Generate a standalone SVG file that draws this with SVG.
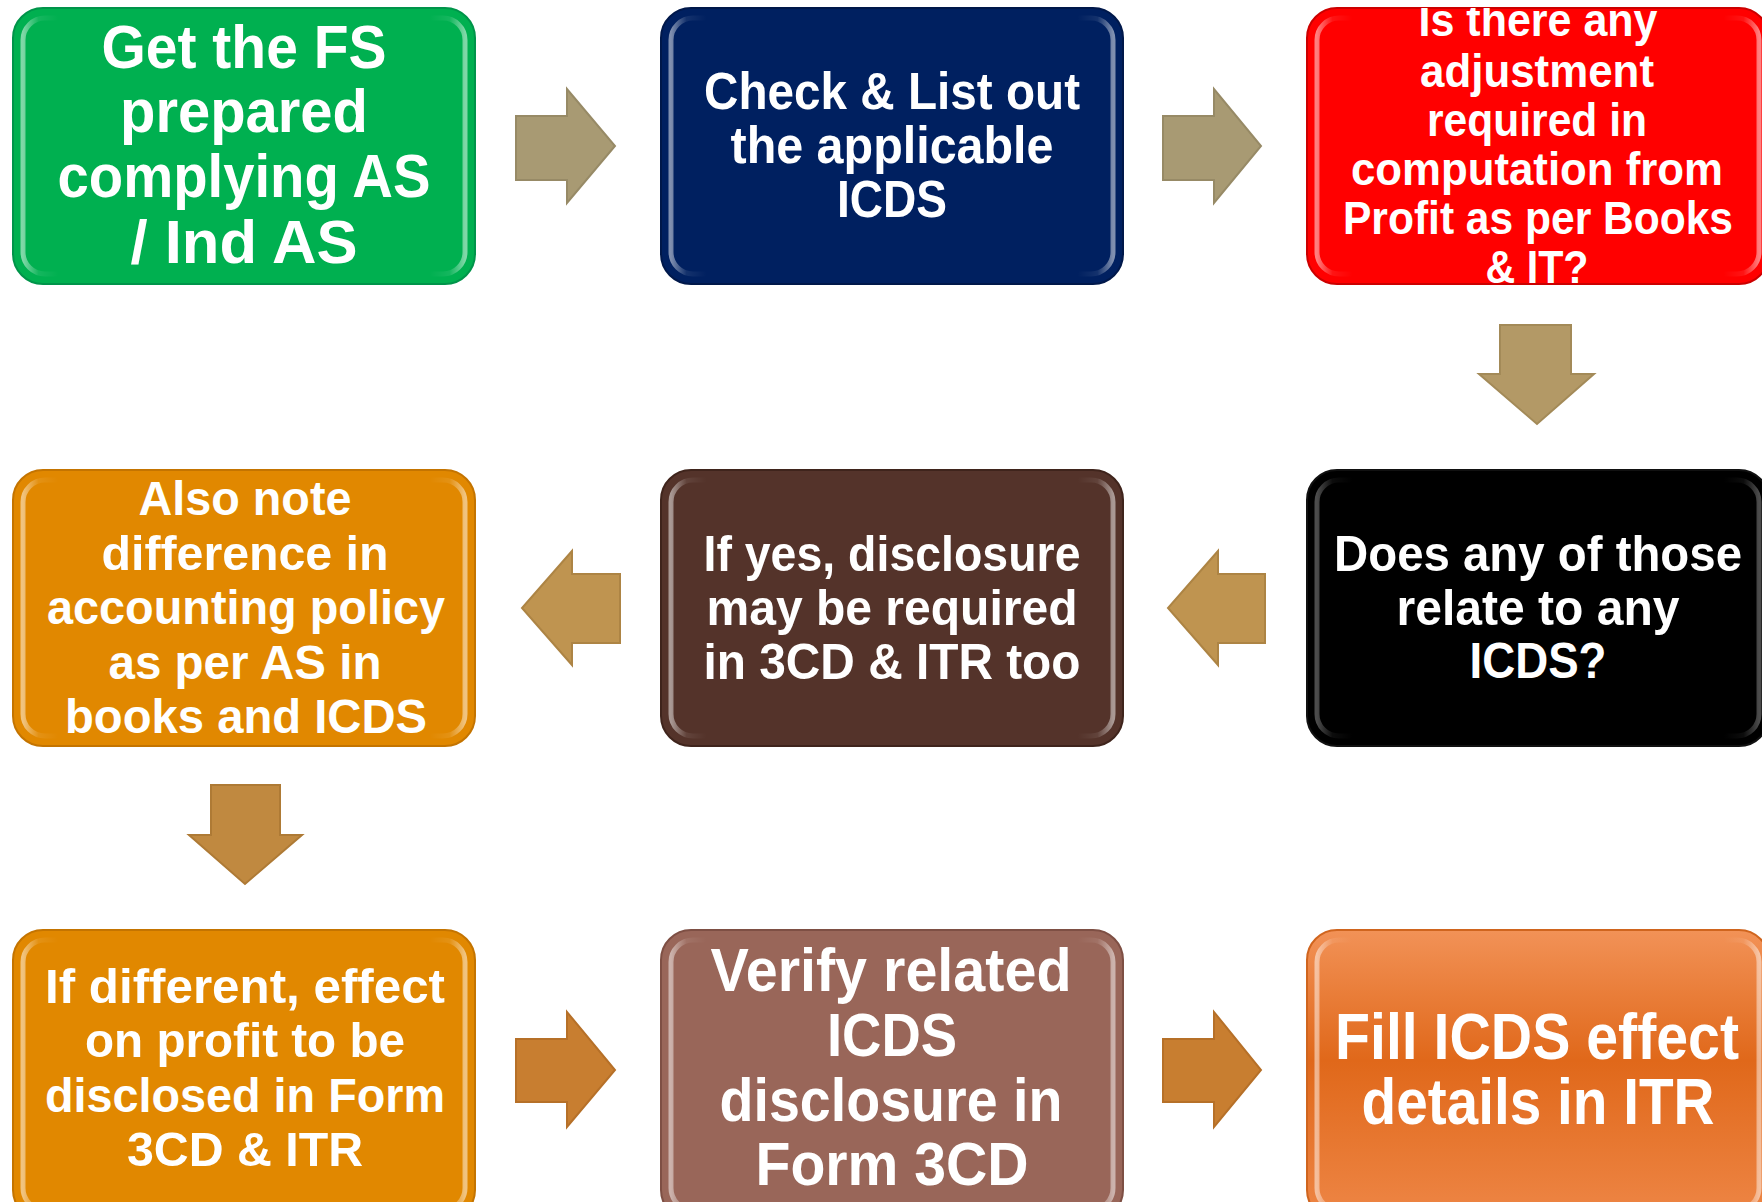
<svg xmlns="http://www.w3.org/2000/svg" width="1762" height="1202" viewBox="0 0 1762 1202">
<style>
.t{font-family:"Liberation Sans Narrow","Liberation Sans",Arial,sans-serif;font-weight:bold;fill:#FFFFFF;text-anchor:middle}
.hl{fill:none;stroke:url(#edge);stroke-width:5}
.arr{stroke-width:2;stroke-linejoin:miter}
</style>
<defs>
<linearGradient id="edge" x1="0" y1="0" x2="1" y2="0">
<stop offset="0" stop-color="#FFFFFF" stop-opacity="0.5"/>
<stop offset="0.035" stop-color="#FFFFFF" stop-opacity="0.08"/>
<stop offset="0.08" stop-color="#FFFFFF" stop-opacity="0"/>
<stop offset="0.92" stop-color="#FFFFFF" stop-opacity="0"/>
<stop offset="0.965" stop-color="#FFFFFF" stop-opacity="0.08"/>
<stop offset="1" stop-color="#FFFFFF" stop-opacity="0.5"/>
</linearGradient>
<linearGradient id="g9" x1="0" y1="0" x2="0" y2="1">
<stop offset="0" stop-color="#F29257"/>
<stop offset="0.45" stop-color="#E0681A"/>
<stop offset="1" stop-color="#EE8646"/>
</linearGradient>
<clipPath id="c3"><rect x="1307" y="8" width="462" height="276" rx="30"/></clipPath>
</defs>
<rect width="1762" height="1202" fill="#FFFFFF"/>

<g id="connectors">
<polygon class="arr" fill="#A89A73" stroke="#978A66" points="516,116 567,116 567,89 615,146 567,203 567,180 516,180"/>
<polygon class="arr" fill="#A89A73" stroke="#978A66" points="1163,116 1214,116 1214,89 1261,146 1214,203 1214,180 1163,180"/>
<polygon class="arr" fill="#B39966" stroke="#A38A58" points="1500,325 1571,325 1571,374 1594,374 1537,424 1479,374 1500,374"/>
<polygon class="arr" fill="#BF9450" stroke="#AD8444" points="1265,574 1218,574 1218,551 1168,608 1218,665 1218,643 1265,643"/>
<polygon class="arr" fill="#BF9450" stroke="#AD8444" points="620,574 572,574 572,551 522,608 572,665 572,643 620,643"/>
<polygon class="arr" fill="#C08940" stroke="#AE7A35" points="211,785 280,785 280,835 302,835 245,884 189,835 211,835"/>
<polygon class="arr" fill="#C87E30" stroke="#B67028" points="516,1039 567,1039 567,1012 615,1070 567,1127 567,1102 516,1102"/>
<polygon class="arr" fill="#C87E30" stroke="#B67028" points="1163,1039 1214,1039 1214,1012 1261,1070 1214,1127 1214,1102 1163,1102"/>
</g>

<g id="node1">
<rect x="13" y="8" width="462" height="276" rx="30" fill="#00B050" stroke="#00944A" stroke-width="2"/>
<rect class="hl" x="23" y="18" width="442" height="256" rx="22"/>
<text class="t" font-size="62"><tspan x="244" y="68" textLength="285" lengthAdjust="spacingAndGlyphs">Get the FS</tspan><tspan x="244" y="132" textLength="248" lengthAdjust="spacingAndGlyphs">prepared</tspan><tspan x="244" y="197" textLength="373" lengthAdjust="spacingAndGlyphs">complying AS</tspan><tspan x="244" y="263" textLength="227" lengthAdjust="spacingAndGlyphs">/ Ind AS</tspan></text>
</g>

<g id="node2">
<rect x="661" y="8" width="462" height="276" rx="30" fill="#002060" stroke="#00184A" stroke-width="2"/>
<rect class="hl" x="671" y="18" width="442" height="256" rx="22"/>
<text class="t" font-size="52"><tspan x="892" y="109" textLength="376" lengthAdjust="spacingAndGlyphs">Check &amp; List out</tspan><tspan x="892" y="163" textLength="323" lengthAdjust="spacingAndGlyphs">the applicable</tspan><tspan x="892" y="217" textLength="110" lengthAdjust="spacingAndGlyphs">ICDS</tspan></text>
</g>

<g id="node3">
<rect x="1307" y="8" width="462" height="276" rx="30" fill="#FF0000" stroke="#CC0000" stroke-width="2"/>
<rect class="hl" x="1317" y="18" width="442" height="256" rx="22"/>
<g clip-path="url(#c3)">
<text class="t" font-size="47"><tspan x="1538" y="36" textLength="239" lengthAdjust="spacingAndGlyphs">Is there any</tspan><tspan x="1537" y="87" textLength="234" lengthAdjust="spacingAndGlyphs">adjustment</tspan><tspan x="1537" y="136" textLength="220" lengthAdjust="spacingAndGlyphs">required in</tspan><tspan x="1537" y="185" textLength="372" lengthAdjust="spacingAndGlyphs">computation from</tspan><tspan x="1538" y="234" textLength="390" lengthAdjust="spacingAndGlyphs">Profit as per Books</tspan><tspan x="1537" y="283" textLength="103" lengthAdjust="spacingAndGlyphs">&amp; IT?</tspan></text>
</g>
</g>

<g id="node4">
<rect x="1307" y="470" width="462" height="276" rx="30" fill="#000000" stroke="#111111" stroke-width="2"/>
<rect class="hl" x="1317" y="480" width="442" height="256" rx="22" opacity="0.6"/>
<text class="t" font-size="50"><tspan x="1538" y="571" textLength="408" lengthAdjust="spacingAndGlyphs">Does any of those</tspan><tspan x="1538" y="625" textLength="283" lengthAdjust="spacingAndGlyphs">relate to any</tspan><tspan x="1538" y="678" textLength="137" lengthAdjust="spacingAndGlyphs">ICDS?</tspan></text>
</g>

<g id="node5">
<rect x="661" y="470" width="462" height="276" rx="30" fill="#54332A" stroke="#3F241C" stroke-width="2"/>
<rect class="hl" x="671" y="480" width="442" height="256" rx="22"/>
<text class="t" font-size="50"><tspan x="892" y="571" textLength="377" lengthAdjust="spacingAndGlyphs">If yes, disclosure</tspan><tspan x="892" y="625" textLength="371" lengthAdjust="spacingAndGlyphs">may be required</tspan><tspan x="892" y="679" textLength="377" lengthAdjust="spacingAndGlyphs">in 3CD &amp; ITR too</tspan></text>
</g>

<g id="node6">
<rect x="13" y="470" width="462" height="276" rx="30" fill="#E18800" stroke="#C47400" stroke-width="2"/>
<rect class="hl" x="23" y="480" width="442" height="256" rx="22"/>
<text class="t" font-size="48"><tspan x="245" y="515" textLength="213" lengthAdjust="spacingAndGlyphs">Also note</tspan><tspan x="245" y="570" textLength="287" lengthAdjust="spacingAndGlyphs">difference in</tspan><tspan x="246" y="624" textLength="398" lengthAdjust="spacingAndGlyphs">accounting policy</tspan><tspan x="245" y="679" textLength="273" lengthAdjust="spacingAndGlyphs">as per AS in</tspan><tspan x="246" y="733" textLength="362" lengthAdjust="spacingAndGlyphs">books and ICDS</tspan></text>
</g>

<g id="node7">
<rect x="13" y="930" width="462" height="290" rx="30" fill="#E18800" stroke="#C47400" stroke-width="2"/>
<rect class="hl" x="23" y="940" width="442" height="270" rx="22"/>
<text class="t" font-size="49"><tspan x="245" y="1003" textLength="400" lengthAdjust="spacingAndGlyphs">If different, effect</tspan><tspan x="245" y="1057" textLength="320" lengthAdjust="spacingAndGlyphs">on profit to be</tspan><tspan x="245" y="1112" textLength="400" lengthAdjust="spacingAndGlyphs">disclosed in Form</tspan><tspan x="245" y="1166" textLength="236" lengthAdjust="spacingAndGlyphs">3CD &amp; ITR</tspan></text>
</g>

<g id="node8">
<rect x="661" y="930" width="462" height="290" rx="30" fill="#996659" stroke="#7E4F44" stroke-width="2"/>
<rect class="hl" x="671" y="940" width="442" height="270" rx="22"/>
<text class="t" font-size="62"><tspan x="891" y="991" textLength="361" lengthAdjust="spacingAndGlyphs">Verify related</tspan><tspan x="892" y="1056" textLength="130" lengthAdjust="spacingAndGlyphs">ICDS</tspan><tspan x="891" y="1121" textLength="343" lengthAdjust="spacingAndGlyphs">disclosure in</tspan><tspan x="892" y="1185" textLength="273" lengthAdjust="spacingAndGlyphs">Form 3CD</tspan></text>
</g>

<g id="node9">
<rect x="1307" y="930" width="462" height="290" rx="30" fill="url(#g9)" stroke="#D0651E" stroke-width="2"/>
<rect class="hl" x="1317" y="940" width="442" height="270" rx="22"/>
<text class="t" font-size="64"><tspan x="1537" y="1059" textLength="404" lengthAdjust="spacingAndGlyphs">Fill ICDS effect</tspan><tspan x="1538" y="1124" textLength="353" lengthAdjust="spacingAndGlyphs">details in ITR</tspan></text>
</g>
</svg>
